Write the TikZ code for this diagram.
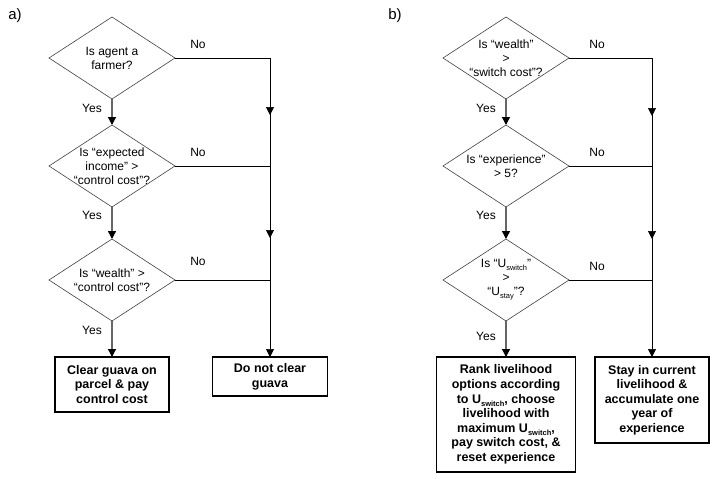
\documentclass[tikz,border=0pt]{standalone}
\usepackage{fontspec}
\setmainfont{Liberation Sans}
\usetikzlibrary{shapes.geometric,arrows.meta,decorations.markings}
\newcommand{\sbs}[1]{\raisebox{-0.45ex}{\fontsize{7.5}{7.5}\selectfont #1}}
\begin{document}
\begin{tikzpicture}[x=1pt,y=-1pt,
 dia/.style={shape=diamond, draw=black!75, line width=0.6pt, minimum width=126pt, minimum height=82pt, inner sep=0pt, outer sep=0pt},
 dtext/.style={align=center, font=\fontsize{12}{14}\selectfont, inner sep=0pt},
 box/.style={draw=black, line width=1.3pt, align=center, font=\fontsize{12.5}{14.6}\selectfont\bfseries, inner sep=0pt, outer sep=0pt},
 yesarrow/.style={draw=black!60, line width=1.4pt, -{Triangle[length=8pt,width=8pt,color=black]}},
 bus/.style={draw=black, line width=0.7pt, -{Triangle[length=8pt,width=8pt]}},
 lbl/.style={font=\fontsize{12}{14}\selectfont, inner sep=0pt},
 panel/.style={font=\fontsize{15}{17}\selectfont, inner sep=0pt},
 ]
\useasboundingbox (0,0) rectangle (715,479);

% ---------- panel a ----------
\node[panel] (pa) at (15,16) {a)};
\node[dia] (a1) at (112,58) {};
\node[dtext] (a1t) at (a1) {Is agent a\\farmer?};
\node[dia] (a2) at (112,166) {};
\node[dtext] (a2t) at (a2) {Is “expected\\income” >\\“control cost”?};
\node[dia] (a3) at (112,280) {};
\node[dtext] (a3t) at (a3) {Is “wealth” >\\“control cost”?};
\node[box, minimum width=114pt, minimum height=55pt] (a4) at (112,384.5) {Clear guava on\\parcel \& pay\\control cost};
\node[box, minimum width=115pt, minimum height=39pt] (a5) at (270,376.5) {Do not clear\\guava};

\draw[yesarrow] (a1.south) -- (a2.north);
\draw[yesarrow] (a2.south) -- (a3.north);
\draw[yesarrow] (a3.south) -- (a4.north);

\draw[bus, postaction={decorate}, decoration={markings,
   mark=at position 152pt with {\arrow{Triangle[length=8pt,width=8pt]}},
   mark=at position 275pt with {\arrow{Triangle[length=8pt,width=8pt]}}}]
   (a1.east) -| (a5.north);
\draw[draw=black, line width=0.7pt] (a2.east) -- (a2.east -| a5.north);
\draw[draw=black, line width=0.7pt] (a3.east) -- (a3.east -| a5.north);

\node[lbl] (ay1) at (92,108) {Yes};
\node[lbl] (ay2) at (92,215) {Yes};
\node[lbl] (ay3) at (92,330) {Yes};
\node[lbl] (an1) at (198,44) {No};
\node[lbl] (an2) at (198,152) {No};
\node[lbl] (an3) at (198,261) {No};

% ---------- panel b ----------
\node[panel] (pb) at (395,16) {b)};
\node[dia] (b1) at (506,58) {};
\node[dtext] (b1t) at (b1) {Is “wealth”\\>\\“switch cost”?};
\node[dia] (b2) at (506,166) {};
\node[dtext] (b2t) at (b2) {Is “experience”\\> 5?};
\node[dia] (b3) at (506,280) {};
\node[dtext] (b3t) at (b3) {Is “U\sbs{switch}”\\>\\“U\sbs{stay}”?};
\node[box, minimum width=139pt, minimum height=115pt] (b4) at (506,414.5) {Rank livelihood\\options according\\to U\sbs{switch}, choose\\livelihood with\\maximum U\sbs{switch},\\pay switch cost, \&\\reset experience};
\node[box, minimum width=114pt, minimum height=86pt] (b5) at (652,400) {Stay in current\\livelihood \&\\accumulate one\\year of\\experience};

\draw[yesarrow] (b1.south) -- (b2.north);
\draw[yesarrow] (b2.south) -- (b3.north);
\draw[yesarrow] (b3.south) -- (b4.north);

\draw[bus, postaction={decorate}, decoration={markings,
   mark=at position 141pt with {\arrow{Triangle[length=8pt,width=8pt]}},
   mark=at position 264pt with {\arrow{Triangle[length=8pt,width=8pt]}}}]
   (b1.east) -| (b5.north);
\draw[draw=black, line width=0.7pt] (b2.east) -- (b2.east -| b5.north);
\draw[draw=black, line width=0.7pt] (b3.east) -- (b3.east -| b5.north);

\node[lbl] (by1) at (486,108) {Yes};
\node[lbl] (by2) at (486,215) {Yes};
\node[lbl] (by3) at (486,336) {Yes};
\node[lbl] (bn1) at (597,44) {No};
\node[lbl] (bn2) at (597,152) {No};
\node[lbl] (bn3) at (597,266) {No};
\end{tikzpicture}
\end{document}
